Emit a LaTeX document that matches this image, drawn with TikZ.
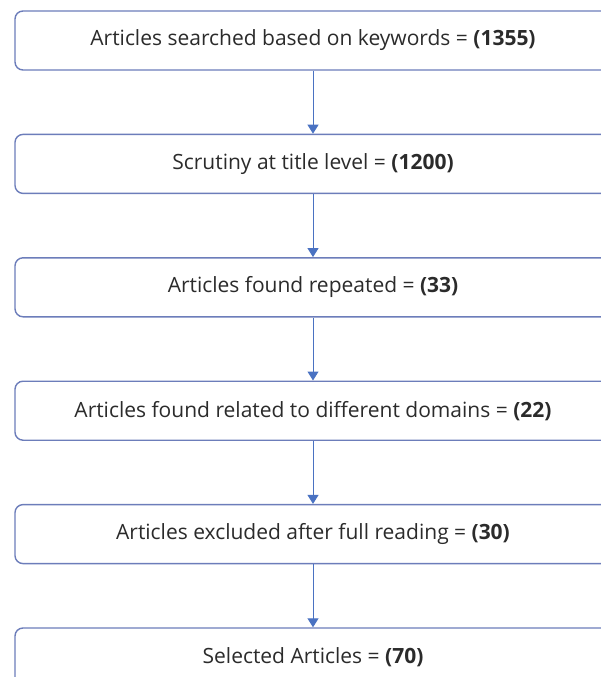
\documentclass[tikz,border=0pt]{standalone}
\usepackage{fontspec}
\setmainfont{Open Sans}
\usepackage{xcolor}
\usetikzlibrary{arrows.meta,positioning}
\definecolor{boxline}{HTML}{6C7DBA}
\definecolor{flowblue}{HTML}{4A72C2}
\definecolor{inktext}{HTML}{2B2B2B}

\begin{document}
\begin{tikzpicture}[x=1pt,y=1pt,node distance=63pt,>={Triangle[width=11pt,length=9pt]}]
\tikzset{stage/.style={draw=boxline,line width=1.4pt,rounded corners=8pt,fill=white,text=inktext,font=\fontsize{21}{24}\selectfont,minimum width=596pt,minimum height=59pt,inner sep=0pt}}
\useasboundingbox (0,0) rectangle (600,-677);
\node[stage] (search) at (313,-40.5) {Articles searched based on keywords = \textbf{(1355)}};
\node[stage,below=of search] (title) {Scrutiny at title level = \textbf{(1200)}};
\node[stage,below=of title] (repeat) {Articles found repeated = \textbf{(33)}};
\node[stage,below=of repeat] (domain) {Articles found related to different domains = \textbf{(22)}};
\node[stage,below=of domain] (reading) {Articles excluded after full reading = \textbf{(30)}};
\node[stage,below=of reading] (selected) {Selected Articles = \textbf{(70)}};
\foreach \a/\b in {search/title,title/repeat,repeat/domain,domain/reading,reading/selected}
  \draw[->,flowblue,line width=1pt] (\a.south) -- (\b.north);
\end{tikzpicture}
\end{document}
